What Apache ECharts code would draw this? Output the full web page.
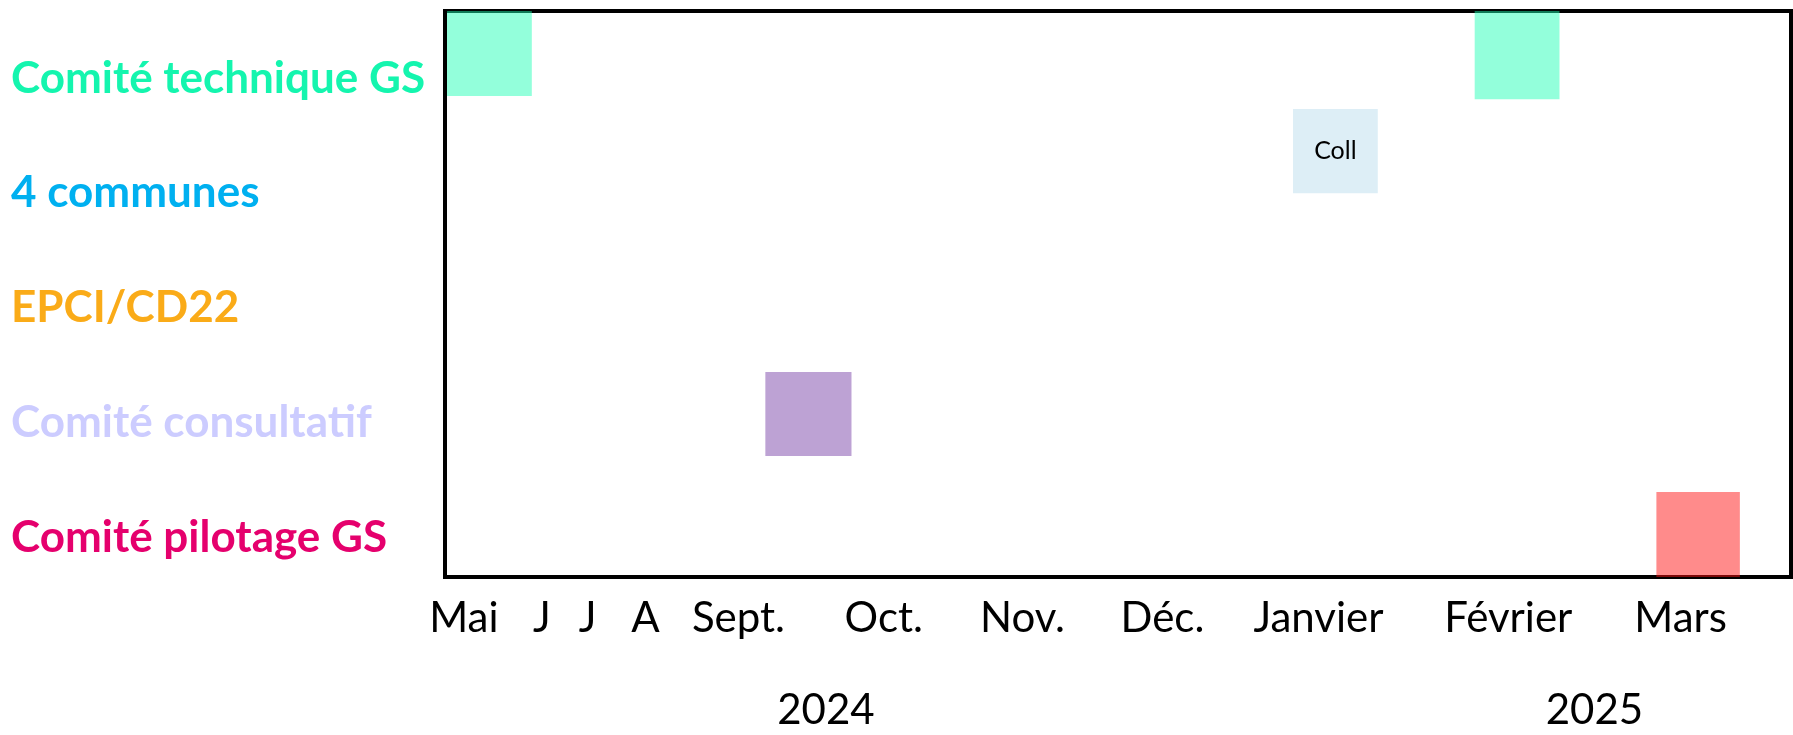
<!DOCTYPE html>
<html><head><meta charset="utf-8">
<script src="https://cdn.jsdelivr.net/npm/echarts@6/dist/echarts.min.js"></script>
<style>html,body{margin:0;padding:0;background:#fff}#c{width:1793px;height:735px}</style>
</head><body><div id="c"></div>
<script>
// Rows (left labels)
const rowNames = ['Comité technique GS', '4 communes', 'EPCI/CD22', 'Comité consultatif', 'Comité pilotage GS'];
// Timeline position (0-100 along the box) of each month label
const monthLabels = ['Mai', 'J', 'J', 'A', 'Sept.', 'Oct.', 'Nov.', 'Déc.', 'Janvier', 'Février', 'Mars'];
const monthPos = [1.4, 7.2, 10.6, 14.9, 21.8, 32.6, 42.9, 53.3, 64.9, 79.0, 91.8];
const yearLabels = ['2024', '2025'];
const yearPos = [28.3, 85.4];
// Events: start/end along timeline, top/bottom in row units (0-5)
const eventStart = [0.15, 63.0, 76.5, 23.8, 90.0];
const eventEnd = [6.45, 69.3, 82.8, 30.2, 96.2];
const eventTop = [0.0, 0.866, 0.0, 3.19, 4.25];
const eventBottom = [0.75, 1.61, 0.78, 3.93, 5.0];
const eventText = ['', 'Coll', '', '', ''];

// styles
const rowColors = ['#14F5AE', '#00B0F0', '#FAAB18', '#CCCCFF', '#E5006D'];
const eventColors = ['rgba(30,255,180,0.48)', '#DDEEF6', 'rgba(30,255,180,0.48)', '#BDA2D4', 'rgba(255,18,18,0.49)'];

const chart = echarts.init(document.getElementById('c'));
const data = eventStart.map((s, i) => [s, eventEnd[i], eventTop[i], eventBottom[i], i]);
chart.setOption({
  animation: false,
  grid: [
    {left: 445, top: 11, width: 1346, height: 566, show: true, borderColor: '#000', borderWidth: 4, backgroundColor: 'transparent', z: 1},
    {left: 445, top: 21, width: 1346, height: 574, show: false}
  ],
  xAxis: [
    {type: 'value', gridIndex: 0, min: 0, max: 100, position: 'bottom',
     axisLine: {show: false}, axisTick: {show: false}, splitLine: {show: false},
     axisLabel: {customValues: monthPos, formatter: (v) => monthLabels[monthPos.indexOf(v)],
       fontFamily: 'Lato', fontSize: 42, color: '#000', margin: 20, hideOverlap: false}},
    {type: 'value', gridIndex: 0, min: 0, max: 100, position: 'bottom',
     axisLine: {show: false}, axisTick: {show: false}, splitLine: {show: false},
     axisLabel: {customValues: yearPos, formatter: (v) => yearLabels[yearPos.indexOf(v)],
       fontFamily: 'Lato', fontSize: 42, color: '#000', margin: 112}},
    {type: 'value', gridIndex: 1, min: 0, max: 1, show: false}
  ],
  yAxis: [
    {type: 'value', gridIndex: 0, min: 0, max: 5, inverse: true, show: false},
    {type: 'category', gridIndex: 1, data: rowNames, inverse: true,
     axisLine: {show: false}, axisTick: {show: false}, splitLine: {show: false},
     axisLabel: {align: 'left', margin: 434, fontFamily: 'Lato', fontWeight: 'bold', fontSize: 44,
       color: (v, i) => rowColors[i]}}
  ],
  series: [
    {type: 'custom', xAxisIndex: 0, yAxisIndex: 0, z: 10, data: data,
     renderItem: (params, api) => {
       const p0 = api.coord([api.value(0), api.value(2)]);
       const p1 = api.coord([api.value(1), api.value(3)]);
       const idx = api.value(4);
       const el = {type: 'rect', shape: {x: p0[0], y: p0[1], width: p1[0] - p0[0], height: p1[1] - p0[1]},
         style: {fill: eventColors[idx]}};
       if (eventText[idx]) {
         el.textContent = {style: {text: eventText[idx], fill: '#000', fontFamily: 'Lato', fontSize: 25}};
         el.textConfig = {position: 'inside'};
       }
       return el;
     }},
    {type: 'scatter', xAxisIndex: 2, yAxisIndex: 1, data: [], silent: true}
  ]
});
</script></body></html>
